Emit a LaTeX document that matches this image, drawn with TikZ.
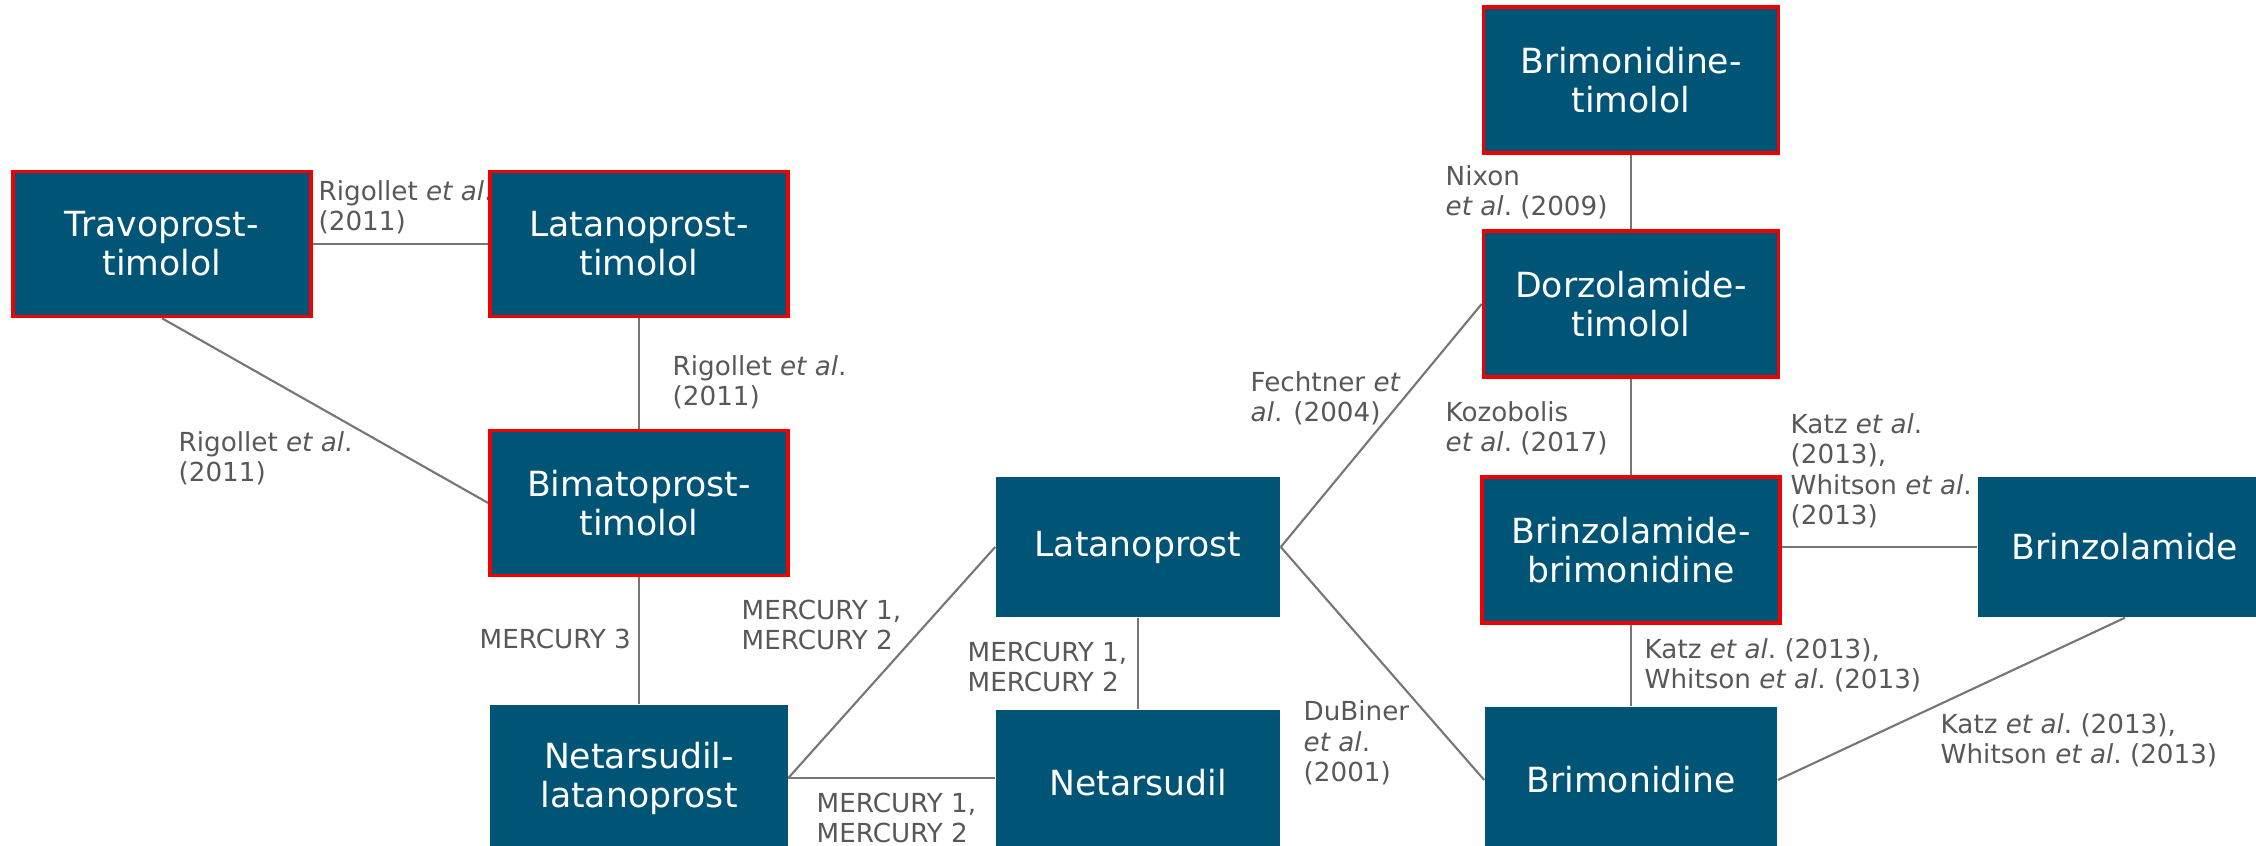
\documentclass[tikz,border=0pt]{standalone}
\usepackage{fontspec}
\setmainfont{DejaVu Sans}
\usetikzlibrary{backgrounds}
\definecolor{boxblue}{RGB}{0,84,118}
\definecolor{boxred}{RGB}{240,0,0}
\definecolor{linkgray}{RGB}{118,118,118}
\definecolor{labelgray}{RGB}{88,88,88}
\newcommand{\etal}{\textit{et al}.}
\tikzset{
  drug/.style={fill=boxblue, text=white, align=center, inner sep=0pt,
    font=\fontsize{9.85}{11.1}\selectfont},
  combo/.style={drug, draw=boxred, line width=1pt},
  link/.style={draw=linkgray, line width=0.6pt},
  cite/.style={text=labelgray, align=left, anchor=base west, inner sep=0pt,
    font=\fontsize{7.45}{8.7}\selectfont}
}
\begin{document}
\begin{tikzpicture}[x=0.01cm, y=-0.01cm]
\clip (0,0) rectangle (2256,846);
% drug boxes (centre in px; combination products framed in red)
\node[combo, minimum width=2.98cm, minimum height=1.45cm] (trav)  at (162,244)  {Travoprost-\\timolol};
\node[combo, minimum width=2.98cm, minimum height=1.45cm] (lattim) at (639,244) {Latanoprost-\\timolol};
\node[combo, minimum width=2.98cm, minimum height=1.45cm] (bim)   at (639,503)  {Bimatoprost-\\timolol};
\node[drug,  minimum width=2.97cm, minimum height=1.46cm] (netlat) at (639,778) {Netarsudil-\\latanoprost};
\node[drug,  minimum width=2.84cm, minimum height=1.40cm] (latan) at (1138,547) {Latanoprost};
\node[drug,  minimum width=2.84cm, minimum height=1.46cm] (netar) at (1138,783) {Netarsudil};
\node[combo, minimum width=2.95cm, minimum height=1.46cm] (brimtim) at (1631,80) {Brimonidine-\\timolol};
\node[combo, minimum width=2.95cm, minimum height=1.46cm] (dorz)  at (1631,304) {Dorzolamide-\\timolol};
\node[combo, minimum width=2.98cm, minimum height=1.46cm] (brzbrm) at (1631,550) {Brinzolamide-\\brimonidine};
\node[drug,  minimum width=2.94cm, minimum height=1.40cm] (brinz) at (2125,547) {Brinzolamide};
\node[drug,  minimum width=2.92cm, minimum height=1.46cm] (brimo) at (1631,780) {Brimonidine};

\begin{pgfonlayer}{background}
% comparisons
\path[link] (trav.east) -- (lattim.west);
\path[link] (trav.south) -- (bim.west);
\path[link] (lattim.south) -- (bim.north);
\path[link] (bim.south) -- (netlat.north);
\path[link] (netlat.east) -- (latan.west);
\path[link] (netlat.east) -- (netlat.east -| netar.west);
\path[link] (latan.south) -- (netar.north);
\path[link] (latan.east) -- (dorz.west);
\path[link] (latan.east) -- (brimo.west);
\path[link] (brimtim.south) -- (dorz.north);
\path[link] (dorz.south) -- (brzbrm.north);
\path[link] (brinz.west -| brzbrm.east) -- (brinz.west);
\path[link] (brzbrm.south) -- (brimo.north);
\path[link] (brimo.east) -- (brinz.south);

% study labels (placed at the baseline of their last line)
\node[cite] (c1)  at (318,231)  {Rigollet \etal\\(2011)};
\node[cite] (c2)  at (672,406)  {Rigollet \etal\\(2011)};
\node[cite] (c3)  at (178,482)  {Rigollet \etal\\(2011)};
\node[cite] (c4)  at (479,649)  {MERCURY 3};
\node[cite] (c5)  at (741,650)  {MERCURY 1,\\MERCURY 2};
\node[cite] (c6)  at (967,692)  {MERCURY 1,\\MERCURY 2};
\node[cite] (c7)  at (816,843)  {MERCURY 1,\\MERCURY 2};
\node[cite] (c8)  at (1250,422) {Fechtner \textit{et}\\\textit{al}. (2004)};
\node[cite] (c9)  at (1303,782) {DuBiner\\\etal\\(2001)};
\node[cite] (c10) at (1445,216) {Nixon\\\etal\ (2009)};
\node[cite] (c11) at (1445,452) {Kozobolis\\\etal\ (2017)};
\node[cite] (c12) at (1790,525) {Katz \etal\\(2013),\\Whitson \etal\\(2013)};
\node[cite] (c13) at (1644,689) {Katz \etal\ (2013),\\Whitson \etal\ (2013)};
\node[cite] (c14) at (1940,764) {Katz \etal\ (2013),\\Whitson \etal\ (2013)};
\end{pgfonlayer}
\end{tikzpicture}
\end{document}
